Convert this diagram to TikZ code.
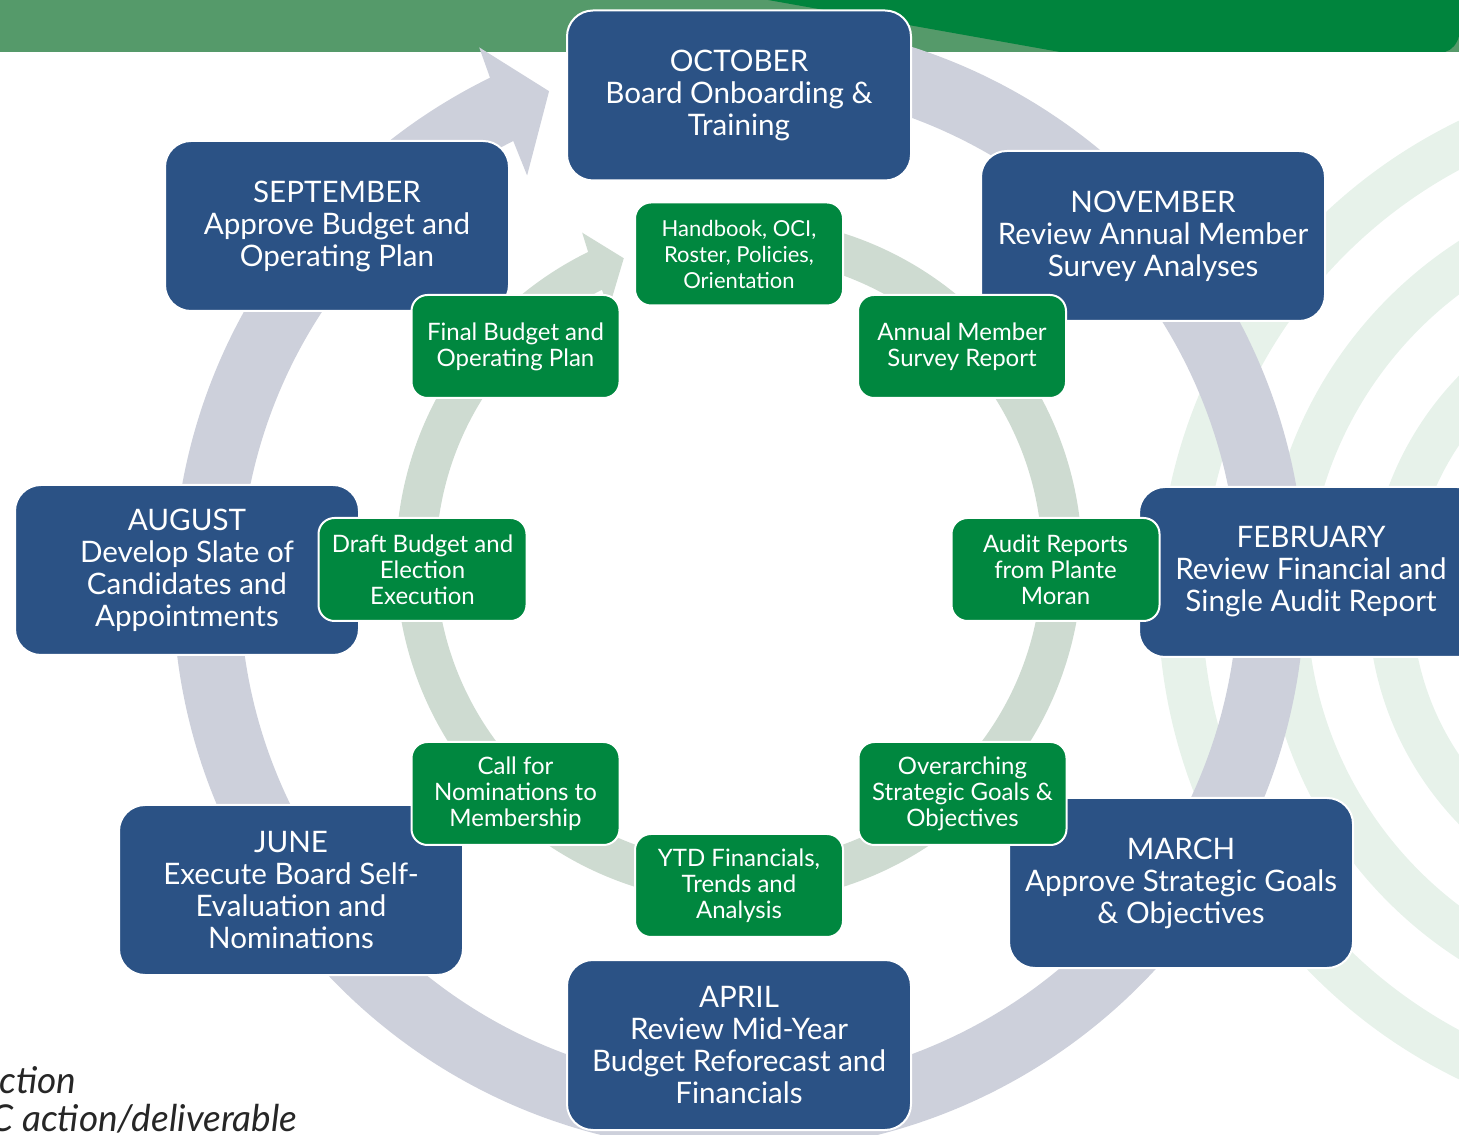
\documentclass[tikz,border=0pt]{standalone}
\usepackage{fontspec}
\setmainfont{Lato}
\usetikzlibrary{calc}
\definecolor{monthblue}{HTML}{2B5285}
\definecolor{taskgreen}{HTML}{00873F}
\definecolor{cyclegray}{HTML}{CDD0DB}
\definecolor{cyclesage}{HTML}{CEDBD1}
\definecolor{bannerlight}{HTML}{559A6A}
\definecolor{bannerdark}{HTML}{00843D}
\definecolor{watermark}{HTML}{E7F2EA}
\tikzset{
    month-box/.style = {draw=white, fill=monthblue, line width=1pt, rectangle, rounded corners=13pt, minimum width=172pt, minimum height=85pt, inner sep=0pt, align=center, text=white, font=\fontsize{14.8}{16}\selectfont},
    task-box/.style = {draw=white, fill=taskgreen, line width=1pt, rectangle, rounded corners=8pt, minimum width=104pt, minimum height=51.5pt, inner sep=0pt, align=center, text=white, font=\fontsize{12}{13}\selectfont},
    note-text/.style = {inner sep=0pt, text=black!85, font=\fontsize{18.5}{21}\selectfont\itshape},
}

\begin{document}
\begin{tikzpicture}[x=0.5pt, y=0.5pt]
\useasboundingbox (0,0) rectangle (1459,1134);
\clip (0,0) rectangle (1459,1134);

% banner along the top edge
\fill[bannerlight] (0,1082) rectangle (1459,1134);
\fill[bannerdark] (768,1134) -- (1060,1082) -- (1445,1082) .. controls (1452,1084) and (1457,1090) .. (1459,1098) -- (1459,1134) -- cycle;

% faint rings on the right
\coordinate (wm) at (1690,534);
\foreach \r in {510,405,300,195,90}
    \draw[watermark, line width=22pt] (wm) circle[radius=\r];

% the two cycles
\coordinate (outer-c) at (739,548);
\coordinate (inner-c) at (739,574);
\fill[cyclegray] ($(outer-c)+(85:566)$) arc[start angle=85, end angle=-243.9, radius=566]
    -- ($(outer-c)+(115.75:598)$) -- ($(outer-c)+(111:530)$) -- ($(outer-c)+(117.3:462)$)
    -- ($(outer-c)+(116.9:499)$) arc[start angle=116.9, end angle=445, radius=499] -- cycle;
\fill[cyclesage] ($(inner-c)+(75:343)$) arc[start angle=75, end angle=-243.9, radius=343]
    -- ($(inner-c)+(115.6:363)$) -- ($(inner-c)+(110.9:323)$) -- ($(inner-c)+(117.4:283)$)
    -- ($(inner-c)+(116.9:303)$) arc[start angle=116.9, end angle=435, radius=303] -- cycle;

% board actions
\node[month-box] (october) at (739,1038.5) {OCTOBER\\Board Onboarding \&\\Training};
\node[month-box] (november) at (1153,898) {NOVEMBER\\Review Annual Member\\Survey Analyses};
\node[month-box] (february) at (1311,562) {FEBRUARY\\Review Financial and\\Single Audit Report};
\node[month-box] (march) at (1181,251) {MARCH\\Approve Strategic Goals\\\& Objectives};
\node[month-box] (april) at (739,89) {APRIL\\Review Mid-Year\\Budget Reforecast and\\Financials};
\node[month-box] (june) at (291,244) {JUNE\\Execute Board Self-\\Evaluation and\\Nominations};
\node[month-box] (august) at (187,564) {AUGUST\\Develop Slate of\\Candidates and\\Appointments};
\node[month-box] (september) at (337,908) {SEPTEMBER\\Approve Budget and\\Operating Plan};

% deliverables
\node[task-box, font=\fontsize{11}{13}\selectfont] (handbook) at (739,880) {Handbook, OCI,\\Roster, Policies,\\Orientation};
\node[task-box] (survey) at (962,787.5) {Annual Member\\Survey Report};
\node[task-box] (audit) at (1055.5,564.5) {Audit Reports\\from Plante\\Moran};
\node[task-box] (goals) at (962.5,340.5) {Overarching\\Strategic Goals \&\\Objectives};
\node[task-box] (ytd) at (739,248.5) {YTD Financials,\\Trends and\\Analysis};
\node[task-box] (nominations) at (515.5,340.5) {Call for\\Nominations to\\Membership};
\node[task-box] (draft) at (422.5,564.5) {Draft Budget and\\Election\\Execution};
\node[task-box] (final) at (515.5,787.5) {Final Budget and\\Operating Plan};

\node[note-text, anchor=base west] (key-board) at (-1,41) {ction};
\node[note-text, anchor=base west] (key-task) at (-10,3) {C action/deliverable};
\end{tikzpicture}
\end{document}
